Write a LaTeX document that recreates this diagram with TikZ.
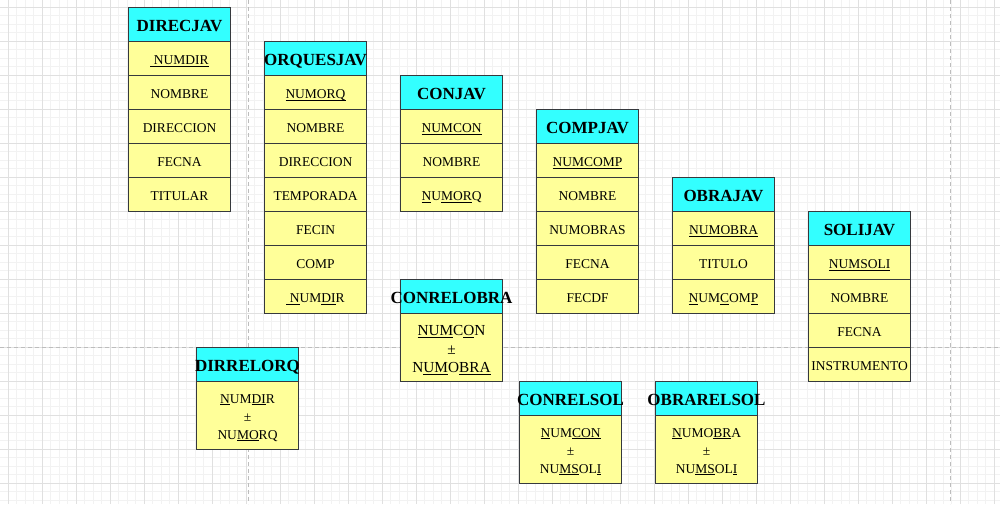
\documentclass[tikz,border=0pt]{standalone}
\usepackage{fontspec}
\setmainfont{Liberation Serif}
\definecolor{hcyan}{HTML}{33FFFF}
\definecolor{byel}{HTML}{FFFF99}
\definecolor{bd}{HTML}{36393D}
\definecolor{gmin}{HTML}{F2F2F2}
\definecolor{gmaj}{HTML}{E0E0E0}
\definecolor{pg}{HTML}{BDBDBD}
\newcommand\myul[1]{\setbox0\hbox{#1}\rlap{\rule[-1.8pt]{\wd0}{0.9pt}}\box0}
\newcommand\hdfont{\fontsize{17}{20}\selectfont\bfseries}
\newcommand\atfont{\fontsize{13.5}{16}\selectfont}
\newcommand\relfont{\fontsize{13.5}{18}\selectfont}
\newcommand\relbigfont{\fontsize{15.3}{18.5}\selectfont}
\newcommand\entity[5]{%
  \node[hdr] (#1) at (#2,#3) {\makebox[0pt]{#4}};
  \foreach \rr [count=\nn] in {#5} {\node[att] (#1-\nn) at (#2,{#3+34*\nn}) {\rr};}
}
\newcommand\relation[6]{%
  \node[hdr] (#1) at (#2,#3) {\makebox[0pt]{#4}};
  \node[relbox] (#1-b) at (#2,{#3+34}) {};
  \node[reltext, font=#5] (#1-t) at ([yshift=-2.5pt]#1-b.center) {#6};
}
\begin{document}
\begin{tikzpicture}[x=1pt,y=-1pt,
  hdr/.style={draw=bd, line width=1pt, fill=hcyan, minimum width=102pt, minimum height=34pt, inner sep=0pt, anchor=north west, font=\hdfont, text=black, text height=13pt, text depth=0pt},
  att/.style={draw=bd, line width=1pt, fill=byel, minimum width=102pt, minimum height=34pt, inner sep=0pt, anchor=north west, font=\atfont, text=black, text height=12.9pt, text depth=0pt},
  relbox/.style={draw=bd, line width=1pt, fill=byel, minimum width=102pt, minimum height=68pt, inner sep=0pt, anchor=north west},
  reltext/.style={inner sep=0pt, align=center, text=black},
  gridminor/.style={draw=gmin, line width=1pt},
  gridmajor/.style={draw=gmaj, line width=1pt},
  pagebrk/.style={draw=pg, line width=1pt, dash pattern=on 4pt off 3pt}]
\useasboundingbox (0,0) rectangle (1000,504);
\fill[white] (0,0) rectangle (1000,504);
% grid
\foreach \i in {-1,...,117} \draw[gridminor] ({8.3+8.5*\i},0) -- ({8.3+8.5*\i},504);
\foreach \i in {-1,...,59} \draw[gridminor] (0,{7.3+8.5*\i}) -- (1000,{7.3+8.5*\i});
\foreach \i in {0,...,29} \draw[gridmajor] ({8.3+34*\i},0) -- ({8.3+34*\i},504);
\foreach \i in {0,...,14} \draw[gridmajor] (0,{7.3+34*\i}) -- (1000,{7.3+34*\i});
% page breaks
\draw[pagebrk] (248,0) -- (248,504);
\draw[pagebrk] (950,0) -- (950,504);
\draw[pagebrk] (0,347) -- (1000,347);
% entities
\entity{direcjav}{128}{7}{DIRECJAV}{{\myul{\ NUMDIR}},NOMBRE,DIRECCION,FECNA,TITULAR}
\entity{orquesjav}{264}{41}{ORQUESJAV}{{\myul{NUMORQ}},NOMBRE,DIRECCION,TEMPORADA,FECIN,COMP,{\myul{\ N}UM\myul{DI}R}}
\entity{conjav}{400}{75}{CONJAV}{{\myul{NUMCON}},NOMBRE,{\myul{N}U\myul{MOR}Q}}
\entity{compjav}{536}{109}{COMPJAV}{{\myul{NUMCOMP}},NOMBRE,NUMOBRAS,FECNA,FECDF}
\entity{obrajav}{672}{177}{OBRAJAV}{{\myul{NUMOBRA}},TITULO,{\myul{N}UM\myul{C}OM\myul{P}}}
\entity{solijav}{808}{211}{SOLIJAV}{{\myul{NUMSOLI}},NOMBRE,FECNA,INSTRUMENTO}
% relations
\relation{conrelobra}{400}{279}{CONRELOBRA}{\relbigfont}{\myul{NUM}C\myul{O}N\\±\\N\myul{UM}O\myul{BRA}}
\relation{dirrelorq}{196}{347}{DIRRELORQ}{\relfont}{\myul{N}UM\myul{DI}R\\±\\NU\myul{MO}RQ}
\relation{conrelsol}{519}{381}{CONRELSOL}{\relfont}{\myul{N}UM\myul{CON}\\±\\NU\myul{MS}OL\myul{I}}
\relation{obrarelsol}{655}{381}{OBRARELSOL}{\relfont}{\myul{N}UMO\myul{BR}A\\±\\NU\myul{MS}OL\myul{I}}
\end{tikzpicture}
\end{document}
